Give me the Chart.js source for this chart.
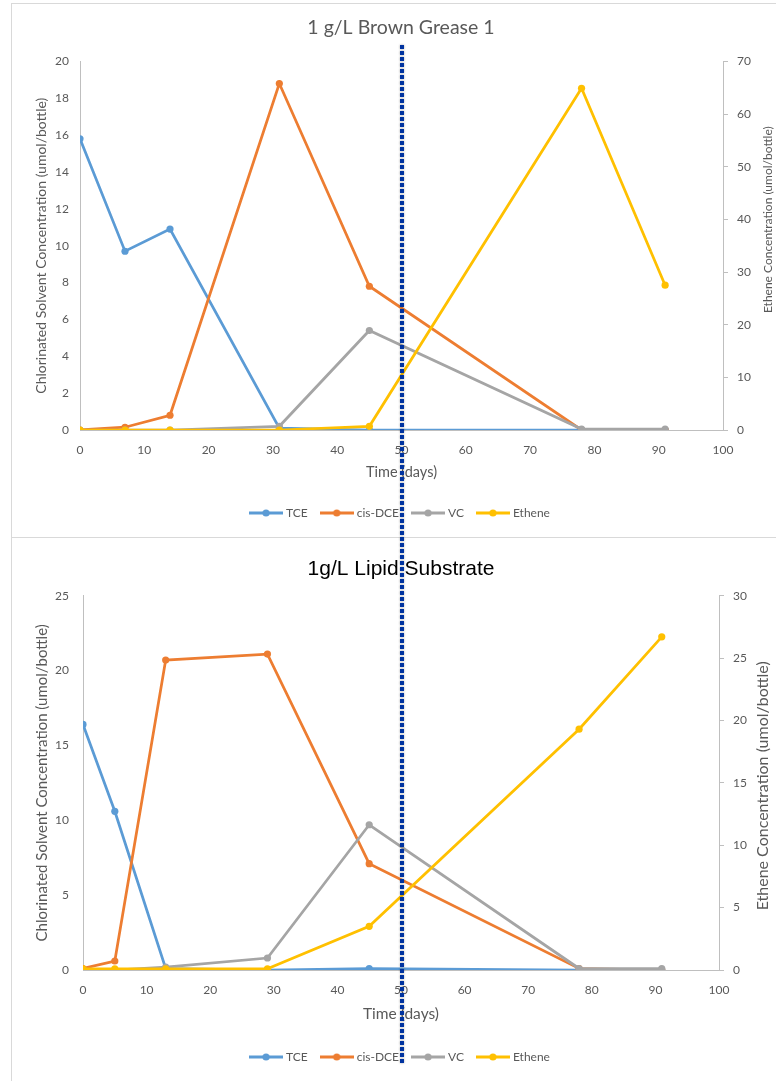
<!DOCTYPE html>
<html>
<head>
<meta charset="utf-8">
<script src="https://cdn.jsdelivr.net/npm/chart.js@4.4.1/dist/chart.umd.min.js"></script>
<style>
  html, body { margin: 0; padding: 0; background: #fff; width: 776px; height: 1081px; overflow: hidden; position: relative; }
  .panel { position: absolute; border: 1px solid #d9d9d9; box-sizing: border-box; background: #fff; }
  canvas { position: absolute; }
  /* dotted reference marker drawn across both panels */
  #marker {
    position: absolute; left: 400px; top: 45px; width: 4px; height: 1018px;
    background: repeating-linear-gradient(to bottom, #0033a0 0 4px, transparent 4px 6px);
    filter: drop-shadow(0 0 1px rgba(0,0,0,0.35));
  }
</style>
</head>
<body>
<div class="panel" style="left:11px; top:3px; width:800px; height:535px;"></div>
<div class="panel" style="left:11px; top:537px; width:800px; height:600px;"></div>
<canvas id="c1" width="776" height="534" style="left:11px; top:3px;"></canvas>
<canvas id="c2" width="776" height="543" style="left:11px; top:538px;"></canvas>
<div id="marker"></div>

<script>
// Series names and colours (Excel default palette)
const seriesNames = ['TCE', 'cis-DCE', 'VC', 'Ethene'];
const seriesColors = ['#5b9bd5', '#ed7d31', '#a5a5a5', '#ffc000'];

// 1 g/L Brown Grease 1 — sampling days and values (umol/bottle)
const daysBG = [0, 7, 14, 31, 45, 78, 91];
const tceBG = [15.8, 9.7, 10.9, 0.1, 0, 0, 0];
const dceBG = [0, 0.15, 0.8, 18.8, 7.8, 0, 0];
const vcBG = [0, 0, 0, 0.2, 5.4, 0.05, 0.05];
const etheneBG = [0, 0, 0, 0, 0.7, 64.9, 27.5];

// 1g/L Lipid Substrate
const daysLS = [0, 5, 13, 29, 45, 78, 91];
const tceLS = [16.4, 10.6, 0.1, 0, 0.1, 0, 0];
const dceLS = [0.1, 0.6, 20.7, 21.1, 7.1, 0.1, 0];
const vcLS = [0, 0, 0.2, 0.8, 9.7, 0.1, 0.1];
const etheneLS = [0.1, 0.1, 0.1, 0.1, 3.5, 19.3, 26.7];

const GRAY_TEXT = '#595959';
const AXIS_LINE = '#bfbfbf';
const FONT = 'Lato, "Open Sans", sans-serif';

// line + dot legend symbol, like Excel's
function legendIcon(color) {
  const c = document.createElement('canvas');
  c.width = 34; c.height = 10;
  const g = c.getContext('2d');
  g.strokeStyle = color; g.lineWidth = 3;
  g.beginPath(); g.moveTo(0, 5); g.lineTo(34, 5); g.stroke();
  g.fillStyle = color;
  g.beginPath(); g.arc(17, 5, 3.6, 0, Math.PI * 2); g.fill();
  return c;
}
const icons = seriesColors.map(legendIcon);

// Excel writes the secondary axis title bottom-to-top; Chart.js flips it, so draw it here
const rightTitle = {
  id: 'rightTitle',
  afterDraw(chart, args, o) {
    const s = chart.scales.y1;
    const ctx = chart.ctx;
    ctx.save();
    ctx.font = `${o.size}px ${FONT}`;
    ctx.fillStyle = GRAY_TEXT;
    ctx.textAlign = 'center';
    ctx.textBaseline = 'middle';
    ctx.translate(s.right - o.inset, (s.top + s.bottom) / 2 + o.shift);
    ctx.rotate(-Math.PI / 2);
    ctx.fillText(o.text, 0, 0);
    ctx.restore();
  },
};

function series(days, values, i, axis) {
  return {
    label: seriesNames[i],
    data: days.map((d, k) => ({ x: d, y: values[k] })),
    borderColor: seriesColors[i],
    backgroundColor: seriesColors[i],
    borderWidth: 2.75,
    pointRadius: 3.6,
    pointHoverRadius: 3.6,
    pointBorderWidth: 0,
    yAxisID: axis,
    order: 4 - i,   // later series on top, as in Excel
  };
}

function buildChart(id, days, cols, p) {
  return new Chart(document.getElementById(id), {
    type: 'line',
    data: {
      datasets: [
        series(days, cols[0], 0, 'y'),
        series(days, cols[1], 1, 'y'),
        series(days, cols[2], 2, 'y'),
        series(days, cols[3], 3, 'y1'),
      ],
    },
    plugins: [rightTitle],
    options: {
      responsive: false,
      animation: false,
      devicePixelRatio: 1,
      layout: { padding: { left: 12, right: 8, top: 0, bottom: 8 } },
      plugins: {
        tooltip: { enabled: false },
        title: {
          display: true,
          text: p.title,
          color: p.titleColor,
          font: p.titleFont,
          padding: p.titlePad,
        },
        legend: {
          position: 'bottom',
          labels: {
            usePointStyle: true,
            pointStyleWidth: 28,
            padding: 15,
            color: GRAY_TEXT,
            font: { family: FONT, size: 12 },
            generateLabels: chart => Chart.defaults.plugins.legend.labels.generateLabels(chart)
              .sort((a, b) => a.datasetIndex - b.datasetIndex)
              .map(item => ({ ...item, pointStyle: icons[item.datasetIndex] })),
          },
        },
        rightTitle: { text: 'Ethene Concentration (umol/bottle)', size: p.y1TitleSize, inset: p.y1Inset, shift: p.y1Shift },
      },
      scales: {
        x: {
          type: 'linear',
          min: 0, max: 100,
          afterFit: s => { s.height = p.xH; },
          grid: { display: false, drawTicks: false },
          border: { display: true, color: AXIS_LINE, width: 1 },
          ticks: { stepSize: 10, padding: 13, color: GRAY_TEXT, font: { family: FONT, size: 12 } },
          title: { display: true, text: 'Time (days)', color: GRAY_TEXT, font: { family: FONT, size: p.xTitleSize }, padding: { top: 0, bottom: p.xTitlePad } },
        },
        y: {
          position: 'left',
          min: 0, max: p.yMax,
          afterFit: s => { s.width = p.leftW; },
          grid: { display: false, drawTicks: false },
          border: { display: true, color: AXIS_LINE, width: 1 },
          ticks: { stepSize: p.yStep, padding: p.yTickPad, color: GRAY_TEXT, font: { family: FONT, size: 12 } },
          title: { display: true, text: 'Chlorinated Solvent Concentration (umol/bottle)', color: GRAY_TEXT, font: { family: FONT, size: p.yTitleSize }, padding: { top: p.yTitlePad, bottom: 0 } },
        },
        y1: {
          position: 'right',
          min: 0, max: p.y1Max,
          afterFit: s => { s.width = p.rightW; },
          grid: { drawOnChartArea: false, drawTicks: true, tickLength: 5, color: AXIS_LINE },
          border: { display: true, color: AXIS_LINE, width: 1 },
          ticks: { stepSize: p.y1Step, padding: 9, color: GRAY_TEXT, font: { family: FONT, size: 12 } },
          title: { display: false },
        },
      },
    },
  });
}

buildChart('c1', daysBG, [tceBG, dceBG, vcBG, etheneBG], {
  title: '1 g/L Brown Grease 1',
  titleColor: GRAY_TEXT,
  titleFont: { family: FONT, size: 19.5, weight: 'normal' },
  titlePad: { top: 13, bottom: 22 },
  yMax: 20, yStep: 2, y1Max: 70, y1Step: 10,
  leftW: 57, rightW: 56, xH: 62,
  yTickPad: 11, yTitleSize: 14, yTitlePad: 10.5,
  y1TitleSize: 12, y1Inset: 11, y1Shift: -26,
  xTitleSize: 14.5, xTitlePad: 11,
});

buildChart('c2', daysLS, [tceLS, dceLS, vcLS, etheneLS], {
  title: '1g/L Lipid Substrate',
  titleColor: '#000000',
  titleFont: { family: '"Liberation Sans", Arial, sans-serif', size: 21, weight: 'normal' },
  titlePad: { top: 19, bottom: 13.5 },
  yMax: 25, yStep: 5, y1Max: 30, y1Step: 5,
  leftW: 60, rightW: 60, xH: 66,
  yTickPad: 14, yTitleSize: 15, yTitlePad: 10,
  y1TitleSize: 16, y1Inset: 16, y1Shift: 3,
  xTitleSize: 15.5, xTitlePad: 12.5,
});
</script>
</body>
</html>
